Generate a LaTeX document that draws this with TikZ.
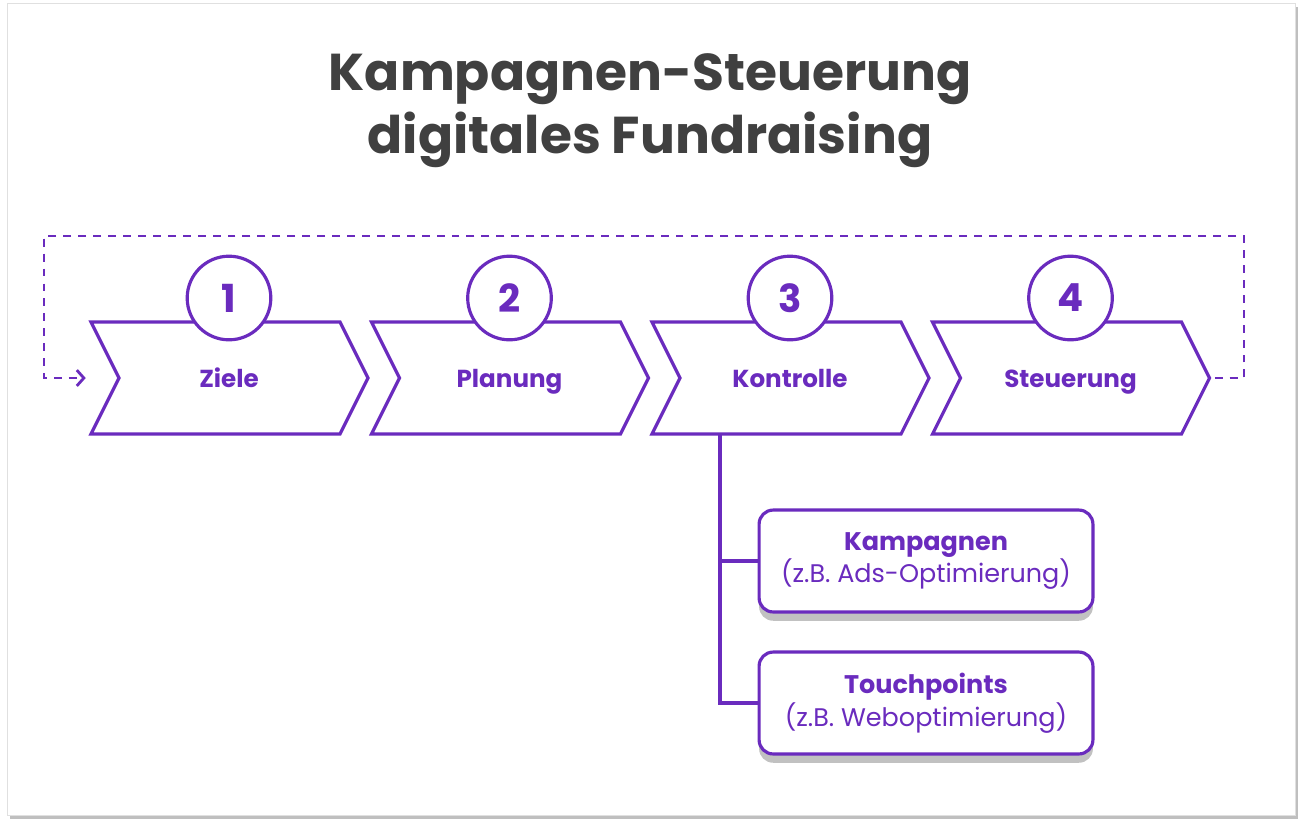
\documentclass[tikz,border=0pt]{standalone}
\usepackage{fontspec}
\setmainfont{Poppins}
\usetikzlibrary{positioning,shadows,arrows.meta}
\definecolor{lila}{HTML}{6A2BBE}
\definecolor{titel}{HTML}{404040}
\tikzset{
  chev/.style={draw=lila,line width=1.8pt,fill=white},
  nummer/.style={circle,draw=lila,line width=1.8pt,fill=white,minimum size=47.6pt,inner sep=0pt,
    text=lila,font=\bfseries\fontsize{22}{24}\selectfont},
  stufe/.style={text=lila,font=\bfseries\fontsize{14}{16}\selectfont,text height=10pt,text depth=3pt},
  kasten/.style={draw=lila,line width=1.8pt,fill=white,rounded corners=8pt,minimum width=190pt,
    minimum height=58pt,align=center,text=lila,font=\fontsize{14.5}{18.5}\selectfont,
    drop shadow={shadow xshift=0pt,shadow yshift=-5pt,fill=black!30,opacity=0.8}},
  ast/.style={draw=lila,line width=1.8pt},
}
\begin{document}
\begin{tikzpicture}[x=0.02cm,y=-0.02cm]
\useasboundingbox (0,0) rectangle (1300,822);
% Rahmen
\fill[black!25] (10,7) rectangle (1298,819);
\fill[white,draw=black!12] (7,3) rectangle (1295,815);
% Titel
\node[text=titel,font=\bfseries\fontsize{29.5}{36}\selectfont,align=center] (titel) at (650,111)
  {Kampagnen-Steuerung\\digitales Fundraising};
% Pfeilkette
\foreach \i/\txt [count=\n] in {0/Ziele,1/Planung,2/Kontrolle,3/Steuerung}{
  \pgfmathsetmacro{\xa}{91+280.5*\i}
  \draw[chev] (\xa,322) -- ++(249,0) -- ++(28,56) -- ++(-28,56) -- ++(-249,0) -- ++(28,-56) -- cycle;
  \coordinate (spitze\n) at (\xa+277,378);
  \coordinate (kerbe\n) at (\xa,378);
  \coordinate (unten\n) at (\xa+138,434);
  \node[stufe] (stufe\n) at (\xa+138,381) {\txt};
  \node[nummer] (nr\n) at (\xa+138,298) {\n};
}
% Rueckfuehrung
\coordinate (r1) at (1244,378);
\coordinate (r2) at (1244,236);
\coordinate (r3) at (44,236);
\coordinate (r4) at (44,378);
\draw[lila,line width=1.6pt,dash pattern=on 4.5pt off 4pt,-{Straight Barb[length=4pt,width=9pt]}]
  ([xshift=3pt]spitze4) -- (r1) -- (r2) -- (r3) -- (r4) -- ([xshift=-3pt]kerbe1);
% Kontrolle-Zweige
\node[kasten] (kamp) at (926,561) {\textbf{Kampagnen}\\(z.B. Ads-Optimierung)};
\node[kasten] (touch) at (926,703) {\textbf{Touchpoints}\\(z.B. Weboptimierung)};
\coordinate (stamm) at (720,434);
\draw[ast] (stamm) |- (touch.west);
\draw[ast] (stamm |- kamp.west) -- (kamp.west);
\end{tikzpicture}
\end{document}
